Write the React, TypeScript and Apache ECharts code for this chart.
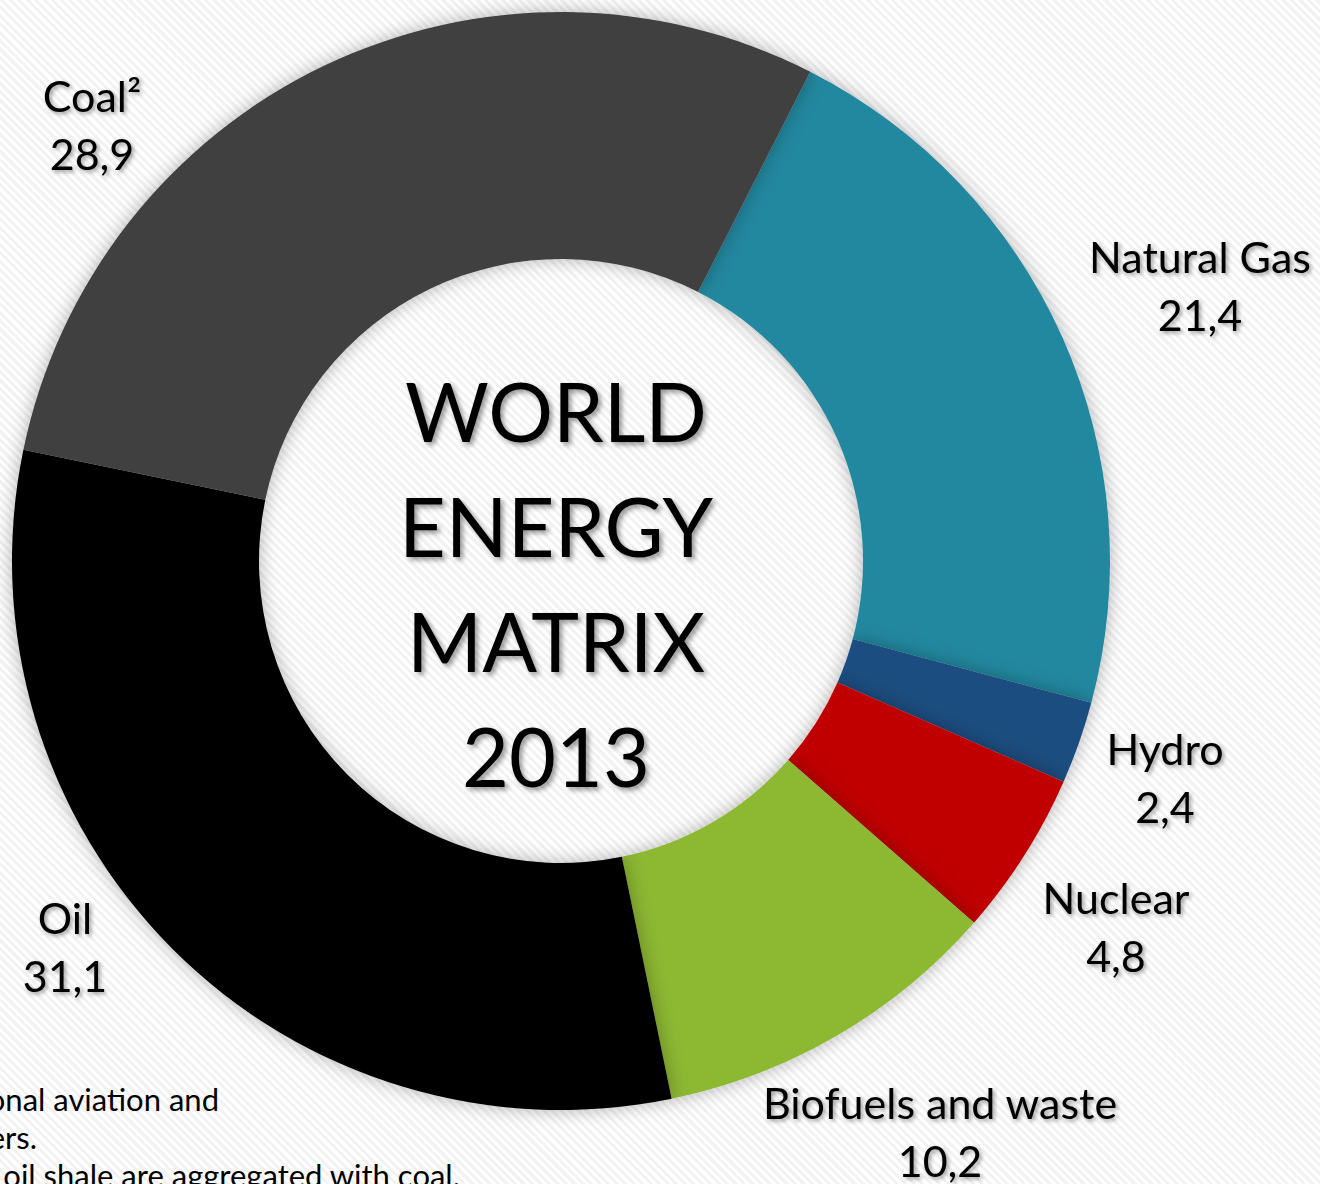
import React, { useEffect, useRef } from "react";
import * as echarts from "echarts";

const CATEGORIES = ["Natural Gas", "Hydro", "Nuclear", "Biofuels and waste", "Oil", "Coal²"];
const VALUES = [21.4, 2.4, 4.8, 10.2, 31.1, 28.9];
const COLORS = ["#24889F", "#1B4E80", "#C00000", "#8CB833", "#000000", "#404040"];
const CENTER_TITLE = ["WORLD", "ENERGY", "MATRIX", "2013"];
const FOOTNOTES = [
  "¹ World includes international aviation and",
  "international marine bunkers.",
  "² In these graphs, peat and oil shale are aggregated with coal.",
];

// label anchor points (layout only)
const LABEL_POS = [
  [1200, 285],
  [1165, 777],
  [1116, 926],
  [940, 1131],
  [65, 946],
  [92, 124],
];
const FOOT_POS = [
  [219, 1099],
  [37, 1137],
  [460, 1175],
];

const FONT = "Lato, 'Open Sans', sans-serif";

export default function App() {
  const ref = useRef<HTMLDivElement>(null);
  useEffect(() => {
    document.body.style.margin = "0";
    const chart = echarts.init(ref.current!, undefined, { renderer: "svg" });
    const shadow = {
      textShadowColor: "rgba(0,0,0,0.4)",
      textShadowBlur: 4,
      textShadowOffsetX: 2,
      textShadowOffsetY: 2,
    };
    chart.setOption({
      animation: false,
      backgroundColor: "transparent",
      series: [
        {
          type: "pie",
          center: [561, 561],
          radius: [302, 549],
          startAngle: 63,
          clockwise: true,
          avoidLabelOverlap: false,
          data: CATEGORIES.map((n, i) => ({
            name: n,
            value: VALUES[i],
            itemStyle: { color: COLORS[i] },
          })),
          itemStyle: {
            shadowBlur: 18,
            shadowColor: "rgba(0,0,0,0.3)",
            borderWidth: 0,
          },
          label: {
            show: true,
            position: "outside",
            formatter: (p: any) => `${p.name}\n${String(p.value).replace(".", ",")}`,
            fontFamily: FONT,
            fontSize: 43,
            lineHeight: 58,
            color: "#000",
            align: "center",
            ...shadow,
          },
          labelLine: { show: false },
          labelLayout: (p: any) => ({
            x: LABEL_POS[p.dataIndex][0],
            y: LABEL_POS[p.dataIndex][1],
            align: "center",
            verticalAlign: "middle",
          }),
          emphasis: { disabled: true },
        },
      ],
      graphic: [
        {
          type: "text",
          x: 556,
          y: 583,
          style: {
            text: CENTER_TITLE.join("\n"),
            fontFamily: FONT,
            fontSize: 81,
            lineHeight: 115,
            fill: "#000",
            align: "center",
            verticalAlign: "middle",
            textShadowColor: "rgba(0,0,0,0.4)",
            textShadowBlur: 5,
            textShadowOffsetX: 3,
            textShadowOffsetY: 3,
          },
        },
        ...FOOTNOTES.map((t, i) => ({
          type: "text",
          x: FOOT_POS[i][0],
          y: FOOT_POS[i][1],
          style: {
            text: t,
            fontFamily: FONT,
            fontSize: 31,
            fill: "#000",
            align: "right",
            verticalAlign: "middle",
          },
        })),
      ],
    });
    return () => chart.dispose();
  }, []);
  return (
    <div
      ref={ref}
      style={{
        position: "absolute",
        left: 0,
        top: 0,
        width: 1320,
        height: 1184,
        overflow: "hidden",
        backgroundColor: "#f7f7f7",
        backgroundImage:
          "repeating-linear-gradient(45deg, #ffffff 0px, #ffffff 3px, #f2f2f2 3px, #f2f2f2 6px)",
      }}
    />
  );
}
